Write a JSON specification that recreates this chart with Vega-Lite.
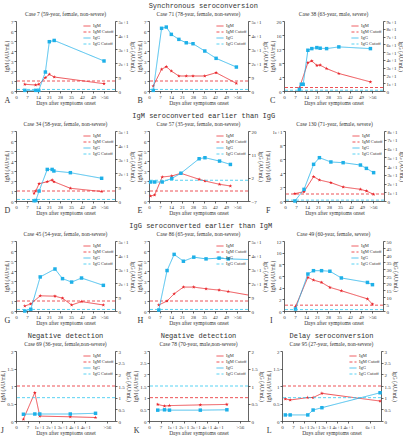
{
"$schema":"https://vega.github.io/schema/vega-lite/v6.json",
"padding":{"left":0,"top":1,"right":0,"bottom":0},
"background":"white",
"datasets":{
"pts":[
{"p":"A","s":"IgM","d":5.6,"v":0.67},{"p":"A","s":"IgM","d":12.5,"v":0.6},{"p":"A","s":"IgM","d":14.5,"v":0.67},{"p":"A","s":"IgM","d":18.7,"v":1.33},{"p":"A","s":"IgM","d":21.2,"v":1.67},{"p":"A","s":"IgM","d":24.3,"v":1.4},{"p":"A","s":"IgM","d":56,"v":0.73},
{"p":"A","s":"IgG","d":5.6,"v":0.4},{"p":"A","s":"IgG","d":12.5,"v":0.4},{"p":"A","s":"IgG","d":14.5,"v":0.4},{"p":"A","s":"IgG","d":18.7,"v":12.2},{"p":"A","s":"IgG","d":21.2,"v":31.7},{"p":"A","s":"IgG","d":24.3,"v":32.5},{"p":"A","s":"IgG","d":56,"v":19.3},
{"p":"B","s":"IgM","d":2.7,"v":0.5},{"p":"B","s":"IgM","d":8,"v":2.17},{"p":"B","s":"IgM","d":11,"v":2.43},{"p":"B","s":"IgM","d":14.2,"v":2.0},{"p":"B","s":"IgM","d":19,"v":1.5},{"p":"B","s":"IgM","d":23.7,"v":1.5},{"p":"B","s":"IgM","d":28,"v":1.5},{"p":"B","s":"IgM","d":35.5,"v":1.5},{"p":"B","s":"IgM","d":42.7,"v":1.83},{"p":"B","s":"IgM","d":55.6,"v":0.77},
{"p":"B","s":"IgG","d":2.7,"v":0.4},{"p":"B","s":"IgG","d":8,"v":40.3},{"p":"B","s":"IgG","d":11,"v":41.1},{"p":"B","s":"IgG","d":14.2,"v":36.4},{"p":"B","s":"IgG","d":19,"v":33.2},{"p":"B","s":"IgG","d":23.7,"v":31},{"p":"B","s":"IgG","d":28,"v":30.4},{"p":"B","s":"IgG","d":35.5,"v":25.7},{"p":"B","s":"IgG","d":42.7,"v":21},{"p":"B","s":"IgG","d":55.6,"v":15.4},
{"p":"C","s":"IgM","d":9.8,"v":0.9},{"p":"C","s":"IgM","d":15.2,"v":8.1},{"p":"C","s":"IgM","d":17.7,"v":8.6},{"p":"C","s":"IgM","d":20.9,"v":7.3},{"p":"C","s":"IgM","d":23,"v":7.4},{"p":"C","s":"IgM","d":27.1,"v":6.4},{"p":"C","s":"IgM","d":34.9,"v":5.0},{"p":"C","s":"IgM","d":55,"v":2.6},
{"p":"C","s":"IgG","d":9.8,"v":2},{"p":"C","s":"IgG","d":11,"v":8.6},{"p":"C","s":"IgG","d":12.2,"v":8.6},{"p":"C","s":"IgG","d":15.2,"v":52.4},{"p":"C","s":"IgG","d":17.7,"v":54.5},{"p":"C","s":"IgG","d":20.9,"v":55.8},{"p":"C","s":"IgG","d":23,"v":55},{"p":"C","s":"IgG","d":27.1,"v":54.5},{"p":"C","s":"IgG","d":34.9,"v":56.7},{"p":"C","s":"IgG","d":55,"v":54.5},
{"p":"D","s":"IgM","d":11.5,"v":0.77},{"p":"D","s":"IgM","d":12.6,"v":1.0},{"p":"D","s":"IgM","d":14.7,"v":1.73},{"p":"D","s":"IgM","d":19.9,"v":1.93},{"p":"D","s":"IgM","d":23,"v":2.1},{"p":"D","s":"IgM","d":24.1,"v":1.93},{"p":"D","s":"IgM","d":34.6,"v":1.27},{"p":"D","s":"IgM","d":54.5,"v":0.95},
{"p":"D","s":"IgG","d":11.5,"v":0.2},{"p":"D","s":"IgG","d":12.6,"v":0.3},{"p":"D","s":"IgG","d":14.7,"v":6.4},{"p":"D","s":"IgG","d":19.9,"v":20.3},{"p":"D","s":"IgG","d":23,"v":20.3},{"p":"D","s":"IgG","d":24.1,"v":19.3},{"p":"D","s":"IgG","d":34.6,"v":18.2},{"p":"D","s":"IgG","d":54.5,"v":14.6},
{"p":"E","s":"IgM","d":1,"v":0.5},{"p":"E","s":"IgM","d":3.6,"v":0.6},{"p":"E","s":"IgM","d":8.4,"v":2.4},{"p":"E","s":"IgM","d":14.5,"v":2.5},{"p":"E","s":"IgM","d":20.3,"v":2.77},{"p":"E","s":"IgM","d":31.9,"v":2.17},{"p":"E","s":"IgM","d":35.6,"v":2.0},{"p":"E","s":"IgM","d":44.9,"v":1.67},{"p":"E","s":"IgM","d":51.8,"v":1.5},
{"p":"E","s":"IgG","d":1,"v":0.33},{"p":"E","s":"IgG","d":3.6,"v":0.33},{"p":"E","s":"IgG","d":8.4,"v":0.33},{"p":"E","s":"IgG","d":14.5,"v":1.7},{"p":"E","s":"IgG","d":20.3,"v":3.7},{"p":"E","s":"IgG","d":31.9,"v":9.3},{"p":"E","s":"IgG","d":35.6,"v":9.7},{"p":"E","s":"IgG","d":44.9,"v":8.4},{"p":"E","s":"IgG","d":51.8,"v":7.1},
{"p":"F","s":"IgM","d":6.3,"v":1.05},{"p":"F","s":"IgM","d":12.1,"v":1.33},{"p":"F","s":"IgM","d":18.2,"v":3.48},{"p":"F","s":"IgM","d":21.9,"v":3.0},{"p":"F","s":"IgM","d":29.2,"v":2.62},{"p":"F","s":"IgM","d":37,"v":2.0},{"p":"F","s":"IgM","d":48,"v":1.67},{"p":"F","s":"IgM","d":51.8,"v":1.43},{"p":"F","s":"IgM","d":56.4,"v":0.95},
{"p":"F","s":"IgG","d":6.3,"v":0},{"p":"F","s":"IgG","d":12.1,"v":13.3},{"p":"F","s":"IgG","d":18.2,"v":41.9},{"p":"F","s":"IgG","d":21.9,"v":49.5},{"p":"F","s":"IgG","d":29.2,"v":44.6},{"p":"F","s":"IgG","d":37,"v":43.8},{"p":"F","s":"IgG","d":48,"v":41.1},{"p":"F","s":"IgG","d":51.8,"v":37.3},{"p":"F","s":"IgG","d":56.4,"v":32.4},
{"p":"G","s":"IgM","d":5.6,"v":0.5},{"p":"G","s":"IgM","d":9.4,"v":0.71},{"p":"G","s":"IgM","d":15.4,"v":1.52},{"p":"G","s":"IgM","d":24.8,"v":1.48},{"p":"G","s":"IgM","d":29.6,"v":1.28},{"p":"G","s":"IgM","d":35.4,"v":0.6},{"p":"G","s":"IgM","d":41.7,"v":0.94},{"p":"G","s":"IgM","d":55.6,"v":0.6},
{"p":"G","s":"IgG","d":5.6,"v":0},{"p":"G","s":"IgG","d":9.4,"v":1.1},{"p":"G","s":"IgG","d":15.4,"v":21.9},{"p":"G","s":"IgG","d":24.8,"v":27},{"p":"G","s":"IgG","d":29.6,"v":20.8},{"p":"G","s":"IgG","d":35.4,"v":18.6},{"p":"G","s":"IgG","d":41.7,"v":21.2},{"p":"G","s":"IgG","d":55.6,"v":16.5},
{"p":"H","s":"IgM","d":6.2,"v":0.6},{"p":"H","s":"IgM","d":11.5,"v":1.0},{"p":"H","s":"IgM","d":16,"v":1.72},{"p":"H","s":"IgM","d":21.9,"v":2.39},{"p":"H","s":"IgM","d":28.5,"v":2.39},{"p":"H","s":"IgM","d":36.3,"v":2.22},{"p":"H","s":"IgM","d":44.6,"v":2.09},{"p":"H","s":"IgM","d":50.4,"v":1.95},{"p":"H","s":"IgM","d":63,"v":1.6},
{"p":"H","s":"IgG","d":6.2,"v":0.6},{"p":"H","s":"IgG","d":11.5,"v":26},{"p":"H","s":"IgG","d":16,"v":36.4},{"p":"H","s":"IgG","d":21.9,"v":32},{"p":"H","s":"IgG","d":28.5,"v":34.6},{"p":"H","s":"IgG","d":36.3,"v":33.5},{"p":"H","s":"IgG","d":44.6,"v":34},{"p":"H","s":"IgG","d":50.4,"v":33.5},{"p":"H","s":"IgG","d":63,"v":33.1},
{"p":"I","s":"IgM","d":7.3,"v":0.75},{"p":"I","s":"IgM","d":15.2,"v":5.78},{"p":"I","s":"IgM","d":18.75,"v":5.3},{"p":"I","s":"IgM","d":23.9,"v":4.9},{"p":"I","s":"IgM","d":29.2,"v":4.05},{"p":"I","s":"IgM","d":36.5,"v":3.47},{"p":"I","s":"IgM","d":53.1,"v":2.08},{"p":"I","s":"IgM","d":56.3,"v":1.16},
{"p":"I","s":"IgG","d":7.3,"v":1.4},{"p":"I","s":"IgG","d":15.2,"v":26.4},{"p":"I","s":"IgG","d":18.75,"v":28.8},{"p":"I","s":"IgG","d":23.9,"v":28.8},{"p":"I","s":"IgG","d":29.2,"v":28.4},{"p":"I","s":"IgG","d":36.5,"v":23.6},{"p":"I","s":"IgG","d":53.1,"v":20.4},{"p":"I","s":"IgG","d":56.3,"v":18.8},
{"p":"J","s":"IgM","d":4.5,"v":0.05},{"p":"J","s":"IgM","d":11.4,"v":0.81},{"p":"J","s":"IgM","d":14.4,"v":0.14},{"p":"J","s":"IgM","d":32.9,"v":0.12},{"p":"J","s":"IgM","d":48.2,"v":0.1},
{"p":"J","s":"IgG","d":4.5,"v":0.29},{"p":"J","s":"IgG","d":11.4,"v":0.3},{"p":"J","s":"IgG","d":14.4,"v":0.3},{"p":"J","s":"IgG","d":32.9,"v":0.3},{"p":"J","s":"IgG","d":48.2,"v":0.33},
{"p":"K","s":"IgM","d":5.3,"v":0.71},{"p":"K","s":"IgM","d":9.4,"v":0.64},{"p":"K","s":"IgM","d":12.4,"v":0.66},{"p":"K","s":"IgM","d":31.1,"v":0.69},{"p":"K","s":"IgM","d":47.2,"v":0.71},
{"p":"K","s":"IgG","d":5.3,"v":0.31},{"p":"K","s":"IgG","d":9.4,"v":0.32},{"p":"K","s":"IgG","d":12.4,"v":0.31},{"p":"K","s":"IgG","d":31.1,"v":0.31},{"p":"K","s":"IgG","d":47.2,"v":0.32},
{"p":"L","s":"IgM","d":2.1,"v":0.63},{"p":"L","s":"IgM","d":5.2,"v":0.6},{"p":"L","s":"IgM","d":16.4,"v":0.67},{"p":"L","s":"IgM","d":19.8,"v":0.67},{"p":"L","s":"IgM","d":25.4,"v":0.79},{"p":"L","s":"IgM","d":62.4,"v":0.57},
{"p":"L","s":"IgG","d":2.1,"v":0.26},{"p":"L","s":"IgG","d":5.2,"v":0.26},{"p":"L","s":"IgG","d":16.4,"v":0.26},{"p":"L","s":"IgG","d":19.8,"v":0.47},{"p":"L","s":"IgG","d":25.4,"v":0.57},{"p":"L","s":"IgG","d":62.4,"v":1.21}
],
"cut":[
{"p":"A","s":"IgM Cutoff","v":1},{"p":"A","s":"IgG Cutoff","v":1},
{"p":"B","s":"IgM Cutoff","v":1},{"p":"B","s":"IgG Cutoff","v":1},
{"p":"C","s":"IgM Cutoff","v":1},{"p":"C","s":"IgG Cutoff","v":1},
{"p":"D","s":"IgM Cutoff","v":1},{"p":"D","s":"IgG Cutoff","v":1},
{"p":"E","s":"IgM Cutoff","v":1},{"p":"E","s":"IgG Cutoff","v":1},
{"p":"F","s":"IgM Cutoff","v":1},{"p":"F","s":"IgG Cutoff","v":1},
{"p":"G","s":"IgM Cutoff","v":1},{"p":"G","s":"IgG Cutoff","v":1},
{"p":"H","s":"IgM Cutoff","v":1},{"p":"H","s":"IgG Cutoff","v":1},
{"p":"I","s":"IgM Cutoff","v":1},{"p":"I","s":"IgG Cutoff","v":1},
{"p":"J","s":"IgM Cutoff","v":1},{"p":"J","s":"IgG Cutoff","v":1},
{"p":"K","s":"IgM Cutoff","v":1},{"p":"K","s":"IgG Cutoff","v":1},
{"p":"L","s":"IgM Cutoff","v":1},{"p":"L","s":"IgG Cutoff","v":1}
]
},
"spacing":5,
"resolve":{"scale":{"color":"independent","strokeDash":"independent"},"legend":{"color":"independent","strokeDash":"independent"}},
"vconcat":[
{"title":{"text":"Synchronous seroconversion","font":"Liberation Mono","fontSize":7,"offset":3,"anchor":"middle"},
 "spacing":2,
 "resolve":{"scale":{"color":"independent","strokeDash":"independent"},"legend":{"color":"independent","strokeDash":"independent"}},
 "hconcat":[
 {"title":{"text":"A","orient":"bottom","anchor":"start","fontSize":8,"offset":-9},
  "resolve":{"scale":{"color":"independent","strokeDash":"independent"},"legend":{"color":"independent","strokeDash":"independent"}},
  "vconcat":[{"width":99,"height":70,"title":"Case 7 (59-year, female, non-severe)","resolve":{"scale":{"y":"independent"}},
  "layer":[
   {"encoding":{"y":{"field":"v","type":"quantitative","scale":{"domain":[0,7],"nice":false},"axis":{"orient":"left","values":[0,1,2,3,4,5,6,7],"title":"IgM (AU/mL)"}}},
    "layer":[
     {"data":{"name":"pts"},"transform":[{"filter":"datum.p=='A'&&datum.s=='IgM'"}],
      "encoding":{"x":{"field":"d","type":"quantitative","scale":{"domain":[0,63],"nice":false},"axis":{"values":[0,7,14,21,28,35,42,49,56],"labelExpr":"datum.value==56?'>56':datum.label","title":"Days after symptoms onset"}}},
      "layer":[
       {"mark":{"type":"line","strokeWidth":0.8},"encoding":{"color":{"field":"s","type":"nominal","title":null,"scale":{"domain":["IgM","IgM Cutoff","IgG","IgG Cutoff"],"range":["#e8262b","#e8262b","#1eb0e8","#2ec6f0"]}},"strokeDash":{"field":"s","type":"nominal","title":null,"scale":{"domain":["IgM","IgM Cutoff","IgG","IgG Cutoff"],"range":[[1,0],[3,2],[1,0],[3,2]]}}}},
       {"mark":{"type":"point","shape":"M0,-1L0.2245,-0.309L0.951,-0.309L0.363,0.118L0.588,0.809L0,0.382L-0.588,0.809L-0.363,0.118L-0.951,-0.309L-0.2245,-0.309Z","filled":true,"size":16,"color":"#e8262b","opacity":1}}
      ]},
     {"data":{"name":"cut"},"transform":[{"filter":"datum.p=='A'&&datum.s=='IgM Cutoff'"}],"mark":{"type":"rule","strokeWidth":0.8},
      "encoding":{"color":{"field":"s","type":"nominal","title":null,"scale":{"domain":["IgM","IgM Cutoff","IgG","IgG Cutoff"],"range":["#e8262b","#e8262b","#1eb0e8","#2ec6f0"]}},"strokeDash":{"field":"s","type":"nominal","title":null,"scale":{"domain":["IgM","IgM Cutoff","IgG","IgG Cutoff"],"range":[[1,0],[3,2],[1,0],[3,2]]}}}}
    ]},
   {"encoding":{"y":{"field":"v","type":"quantitative","scale":{"domain":[0,45],"nice":false},"axis":{"orient":"right","values":[0,9,18,27,36,45],"title":"IgG (AU/mL)"}}},
    "layer":[
     {"data":{"name":"pts"},"transform":[{"filter":"datum.p=='A'&&datum.s=='IgG'"}],
      "encoding":{"x":{"field":"d","type":"quantitative","scale":{"domain":[0,63],"nice":false},"axis":{"values":[0,7,14,21,28,35,42,49,56],"labelExpr":"datum.value==56?'>56':datum.label","title":"Days after symptoms onset"}}},
      "layer":[
       {"mark":{"type":"line","strokeWidth":0.8},"encoding":{"color":{"field":"s","type":"nominal","title":null,"scale":{"domain":["IgM","IgM Cutoff","IgG","IgG Cutoff"],"range":["#e8262b","#e8262b","#1eb0e8","#2ec6f0"]}},"strokeDash":{"field":"s","type":"nominal","title":null,"scale":{"domain":["IgM","IgM Cutoff","IgG","IgG Cutoff"],"range":[[1,0],[3,2],[1,0],[3,2]]}}}},
       {"mark":{"type":"point","shape":"square","filled":true,"size":12,"color":"#1eb0e8","opacity":1}}
      ]},
     {"data":{"name":"cut"},"transform":[{"filter":"datum.p=='A'&&datum.s=='IgG Cutoff'"}],"mark":{"type":"rule","strokeWidth":0.8},
      "encoding":{"color":{"field":"s","type":"nominal","title":null,"scale":{"domain":["IgM","IgM Cutoff","IgG","IgG Cutoff"],"range":["#e8262b","#e8262b","#1eb0e8","#2ec6f0"]}},"strokeDash":{"field":"s","type":"nominal","title":null,"scale":{"domain":["IgM","IgM Cutoff","IgG","IgG Cutoff"],"range":[[1,0],[3,2],[1,0],[3,2]]}}}}
    ]}
  ]}]},
 {"title":{"text":"B","orient":"bottom","anchor":"start","fontSize":8,"offset":-9},
  "resolve":{"scale":{"color":"independent","strokeDash":"independent"},"legend":{"color":"independent","strokeDash":"independent"}},
  "vconcat":[{"width":99,"height":70,"title":"Case 71 (78-year, female, non-severe)","resolve":{"scale":{"y":"independent"}},
  "layer":[
   {"encoding":{"y":{"field":"v","type":"quantitative","scale":{"domain":[0,7],"nice":false},"axis":{"orient":"left","values":[0,1,2,3,4,5,6,7],"title":"IgM (AU/mL)"}}},
    "layer":[
     {"data":{"name":"pts"},"transform":[{"filter":"datum.p=='B'&&datum.s=='IgM'"}],
      "encoding":{"x":{"field":"d","type":"quantitative","scale":{"domain":[0,63],"nice":false},"axis":{"values":[0,7,14,21,28,35,42,49,56],"labelExpr":"datum.value==56?'>56':datum.label","title":"Days after symptoms onset"}}},
      "layer":[
       {"mark":{"type":"line","strokeWidth":0.8},"encoding":{"color":{"field":"s","type":"nominal","title":null,"scale":{"domain":["IgM","IgM Cutoff","IgG","IgG Cutoff"],"range":["#e8262b","#e8262b","#1eb0e8","#2ec6f0"]}},"strokeDash":{"field":"s","type":"nominal","title":null,"scale":{"domain":["IgM","IgM Cutoff","IgG","IgG Cutoff"],"range":[[1,0],[3,2],[1,0],[3,2]]}}}},
       {"mark":{"type":"point","shape":"M0,-1L0.2245,-0.309L0.951,-0.309L0.363,0.118L0.588,0.809L0,0.382L-0.588,0.809L-0.363,0.118L-0.951,-0.309L-0.2245,-0.309Z","filled":true,"size":16,"color":"#e8262b","opacity":1}}
      ]},
     {"data":{"name":"cut"},"transform":[{"filter":"datum.p=='B'&&datum.s=='IgM Cutoff'"}],"mark":{"type":"rule","strokeWidth":0.8},
      "encoding":{"color":{"field":"s","type":"nominal","title":null,"scale":{"domain":["IgM","IgM Cutoff","IgG","IgG Cutoff"],"range":["#e8262b","#e8262b","#1eb0e8","#2ec6f0"]}},"strokeDash":{"field":"s","type":"nominal","title":null,"scale":{"domain":["IgM","IgM Cutoff","IgG","IgG Cutoff"],"range":[[1,0],[3,2],[1,0],[3,2]]}}}}
    ]},
   {"encoding":{"y":{"field":"v","type":"quantitative","scale":{"domain":[0,45],"nice":false},"axis":{"orient":"right","values":[0,9,18,27,36,45],"title":"IgG (AU/mL)"}}},
    "layer":[
     {"data":{"name":"pts"},"transform":[{"filter":"datum.p=='B'&&datum.s=='IgG'"}],
      "encoding":{"x":{"field":"d","type":"quantitative","scale":{"domain":[0,63],"nice":false},"axis":{"values":[0,7,14,21,28,35,42,49,56],"labelExpr":"datum.value==56?'>56':datum.label","title":"Days after symptoms onset"}}},
      "layer":[
       {"mark":{"type":"line","strokeWidth":0.8},"encoding":{"color":{"field":"s","type":"nominal","title":null,"scale":{"domain":["IgM","IgM Cutoff","IgG","IgG Cutoff"],"range":["#e8262b","#e8262b","#1eb0e8","#2ec6f0"]}},"strokeDash":{"field":"s","type":"nominal","title":null,"scale":{"domain":["IgM","IgM Cutoff","IgG","IgG Cutoff"],"range":[[1,0],[3,2],[1,0],[3,2]]}}}},
       {"mark":{"type":"point","shape":"square","filled":true,"size":12,"color":"#1eb0e8","opacity":1}}
      ]},
     {"data":{"name":"cut"},"transform":[{"filter":"datum.p=='B'&&datum.s=='IgG Cutoff'"}],"mark":{"type":"rule","strokeWidth":0.8},
      "encoding":{"color":{"field":"s","type":"nominal","title":null,"scale":{"domain":["IgM","IgM Cutoff","IgG","IgG Cutoff"],"range":["#e8262b","#e8262b","#1eb0e8","#2ec6f0"]}},"strokeDash":{"field":"s","type":"nominal","title":null,"scale":{"domain":["IgM","IgM Cutoff","IgG","IgG Cutoff"],"range":[[1,0],[3,2],[1,0],[3,2]]}}}}
    ]}
  ]}]},
 {"title":{"text":"C","orient":"bottom","anchor":"start","fontSize":8,"offset":-9},
  "resolve":{"scale":{"color":"independent","strokeDash":"independent"},"legend":{"color":"independent","strokeDash":"independent"}},
  "vconcat":[{"width":99,"height":70,"title":"Case 38 (63-year, male, severe)","resolve":{"scale":{"y":"independent"}},
  "layer":[
   {"encoding":{"y":{"field":"v","type":"quantitative","scale":{"domain":[0,20],"nice":false},"axis":{"orient":"left","values":[0,4,8,12,16,20],"title":"IgM (AU/mL)"}}},
    "layer":[
     {"data":{"name":"pts"},"transform":[{"filter":"datum.p=='C'&&datum.s=='IgM'"}],
      "encoding":{"x":{"field":"d","type":"quantitative","scale":{"domain":[0,63],"nice":false},"axis":{"values":[0,7,14,21,28,35,42,49,56],"labelExpr":"datum.value==56?'>56':datum.label","title":"Days after symptoms onset"}}},
      "layer":[
       {"mark":{"type":"line","strokeWidth":0.8},"encoding":{"color":{"field":"s","type":"nominal","title":null,"scale":{"domain":["IgM","IgM Cutoff","IgG","IgG Cutoff"],"range":["#e8262b","#e8262b","#1eb0e8","#2ec6f0"]}},"strokeDash":{"field":"s","type":"nominal","title":null,"scale":{"domain":["IgM","IgM Cutoff","IgG","IgG Cutoff"],"range":[[1,0],[3,2],[1,0],[3,2]]}}}},
       {"mark":{"type":"point","shape":"M0,-1L0.2245,-0.309L0.951,-0.309L0.363,0.118L0.588,0.809L0,0.382L-0.588,0.809L-0.363,0.118L-0.951,-0.309L-0.2245,-0.309Z","filled":true,"size":16,"color":"#e8262b","opacity":1}}
      ]},
     {"data":{"name":"cut"},"transform":[{"filter":"datum.p=='C'&&datum.s=='IgM Cutoff'"}],"mark":{"type":"rule","strokeWidth":0.8},
      "encoding":{"color":{"field":"s","type":"nominal","title":null,"scale":{"domain":["IgM","IgM Cutoff","IgG","IgG Cutoff"],"range":["#e8262b","#e8262b","#1eb0e8","#2ec6f0"]}},"strokeDash":{"field":"s","type":"nominal","title":null,"scale":{"domain":["IgM","IgM Cutoff","IgG","IgG Cutoff"],"range":[[1,0],[3,2],[1,0],[3,2]]}}}}
    ]},
   {"encoding":{"y":{"field":"v","type":"quantitative","scale":{"domain":[0,90],"nice":false},"axis":{"orient":"right","values":[0,10,20,30,40,50,60,70,80,90],"title":"IgG (AU/mL)"}}},
    "layer":[
     {"data":{"name":"pts"},"transform":[{"filter":"datum.p=='C'&&datum.s=='IgG'"}],
      "encoding":{"x":{"field":"d","type":"quantitative","scale":{"domain":[0,63],"nice":false},"axis":{"values":[0,7,14,21,28,35,42,49,56],"labelExpr":"datum.value==56?'>56':datum.label","title":"Days after symptoms onset"}}},
      "layer":[
       {"mark":{"type":"line","strokeWidth":0.8},"encoding":{"color":{"field":"s","type":"nominal","title":null,"scale":{"domain":["IgM","IgM Cutoff","IgG","IgG Cutoff"],"range":["#e8262b","#e8262b","#1eb0e8","#2ec6f0"]}},"strokeDash":{"field":"s","type":"nominal","title":null,"scale":{"domain":["IgM","IgM Cutoff","IgG","IgG Cutoff"],"range":[[1,0],[3,2],[1,0],[3,2]]}}}},
       {"mark":{"type":"point","shape":"square","filled":true,"size":12,"color":"#1eb0e8","opacity":1}}
      ]},
     {"data":{"name":"cut"},"transform":[{"filter":"datum.p=='C'&&datum.s=='IgG Cutoff'"}],"mark":{"type":"rule","strokeWidth":0.8},
      "encoding":{"color":{"field":"s","type":"nominal","title":null,"scale":{"domain":["IgM","IgM Cutoff","IgG","IgG Cutoff"],"range":["#e8262b","#e8262b","#1eb0e8","#2ec6f0"]}},"strokeDash":{"field":"s","type":"nominal","title":null,"scale":{"domain":["IgM","IgM Cutoff","IgG","IgG Cutoff"],"range":[[1,0],[3,2],[1,0],[3,2]]}}}}
    ]}
  ]}]}
 ]},
{"title":{"text":"IgM seroconverted earlier than IgG","font":"Liberation Mono","fontSize":7,"offset":3,"anchor":"middle"},
 "spacing":2,
 "resolve":{"scale":{"color":"independent","strokeDash":"independent"},"legend":{"color":"independent","strokeDash":"independent"}},
 "hconcat":[
 {"title":{"text":"D","orient":"bottom","anchor":"start","fontSize":8,"offset":-9},
  "resolve":{"scale":{"color":"independent","strokeDash":"independent"},"legend":{"color":"independent","strokeDash":"independent"}},
  "vconcat":[{"width":99,"height":70,"title":"Case 34 (58-year, female, non-severe)","resolve":{"scale":{"y":"independent"}},
  "layer":[
   {"encoding":{"y":{"field":"v","type":"quantitative","scale":{"domain":[0,7],"nice":false},"axis":{"orient":"left","values":[0,1,2,3,4,5,6,7],"title":"IgM (AU/mL)"}}},
    "layer":[
     {"data":{"name":"pts"},"transform":[{"filter":"datum.p=='D'&&datum.s=='IgM'"}],
      "encoding":{"x":{"field":"d","type":"quantitative","scale":{"domain":[0,63],"nice":false},"axis":{"values":[0,7,14,21,28,35,42,49,56],"labelExpr":"datum.value==56?'>56':datum.label","title":"Days after symptoms onset"}}},
      "layer":[
       {"mark":{"type":"line","strokeWidth":0.8},"encoding":{"color":{"field":"s","type":"nominal","title":null,"scale":{"domain":["IgM","IgM Cutoff","IgG","IgG Cutoff"],"range":["#e8262b","#e8262b","#1eb0e8","#2ec6f0"]}},"strokeDash":{"field":"s","type":"nominal","title":null,"scale":{"domain":["IgM","IgM Cutoff","IgG","IgG Cutoff"],"range":[[1,0],[3,2],[1,0],[3,2]]}}}},
       {"mark":{"type":"point","shape":"M0,-1L0.2245,-0.309L0.951,-0.309L0.363,0.118L0.588,0.809L0,0.382L-0.588,0.809L-0.363,0.118L-0.951,-0.309L-0.2245,-0.309Z","filled":true,"size":16,"color":"#e8262b","opacity":1}}
      ]},
     {"data":{"name":"cut"},"transform":[{"filter":"datum.p=='D'&&datum.s=='IgM Cutoff'"}],"mark":{"type":"rule","strokeWidth":0.8},
      "encoding":{"color":{"field":"s","type":"nominal","title":null,"scale":{"domain":["IgM","IgM Cutoff","IgG","IgG Cutoff"],"range":["#e8262b","#e8262b","#1eb0e8","#2ec6f0"]}},"strokeDash":{"field":"s","type":"nominal","title":null,"scale":{"domain":["IgM","IgM Cutoff","IgG","IgG Cutoff"],"range":[[1,0],[3,2],[1,0],[3,2]]}}}}
    ]},
   {"encoding":{"y":{"field":"v","type":"quantitative","scale":{"domain":[0,45],"nice":false},"axis":{"orient":"right","values":[0,9,18,27,36,45],"title":"IgG (AU/mL)"}}},
    "layer":[
     {"data":{"name":"pts"},"transform":[{"filter":"datum.p=='D'&&datum.s=='IgG'"}],
      "encoding":{"x":{"field":"d","type":"quantitative","scale":{"domain":[0,63],"nice":false},"axis":{"values":[0,7,14,21,28,35,42,49,56],"labelExpr":"datum.value==56?'>56':datum.label","title":"Days after symptoms onset"}}},
      "layer":[
       {"mark":{"type":"line","strokeWidth":0.8},"encoding":{"color":{"field":"s","type":"nominal","title":null,"scale":{"domain":["IgM","IgM Cutoff","IgG","IgG Cutoff"],"range":["#e8262b","#e8262b","#1eb0e8","#2ec6f0"]}},"strokeDash":{"field":"s","type":"nominal","title":null,"scale":{"domain":["IgM","IgM Cutoff","IgG","IgG Cutoff"],"range":[[1,0],[3,2],[1,0],[3,2]]}}}},
       {"mark":{"type":"point","shape":"square","filled":true,"size":12,"color":"#1eb0e8","opacity":1}}
      ]},
     {"data":{"name":"cut"},"transform":[{"filter":"datum.p=='D'&&datum.s=='IgG Cutoff'"}],"mark":{"type":"rule","strokeWidth":0.8},
      "encoding":{"color":{"field":"s","type":"nominal","title":null,"scale":{"domain":["IgM","IgM Cutoff","IgG","IgG Cutoff"],"range":["#e8262b","#e8262b","#1eb0e8","#2ec6f0"]}},"strokeDash":{"field":"s","type":"nominal","title":null,"scale":{"domain":["IgM","IgM Cutoff","IgG","IgG Cutoff"],"range":[[1,0],[3,2],[1,0],[3,2]]}}}}
    ]}
  ]}]},
 {"title":{"text":"E","orient":"bottom","anchor":"start","fontSize":8,"offset":-9},
  "resolve":{"scale":{"color":"independent","strokeDash":"independent"},"legend":{"color":"independent","strokeDash":"independent"}},
  "vconcat":[{"width":99,"height":70,"title":"Case 57 (35-year, female, non-severe)","resolve":{"scale":{"y":"independent"}},
  "layer":[
   {"encoding":{"y":{"field":"v","type":"quantitative","scale":{"domain":[0,7],"nice":false},"axis":{"orient":"left","values":[0,1,2,3,4,5,6,7],"title":"IgM (AU/mL)"}}},
    "layer":[
     {"data":{"name":"pts"},"transform":[{"filter":"datum.p=='E'&&datum.s=='IgM'"}],
      "encoding":{"x":{"field":"d","type":"quantitative","scale":{"domain":[0,63],"nice":false},"axis":{"values":[0,7,14,21,28,35,42,49,56],"labelExpr":"datum.value==56?'>56':datum.label","title":"Days after symptoms onset"}}},
      "layer":[
       {"mark":{"type":"line","strokeWidth":0.8},"encoding":{"color":{"field":"s","type":"nominal","title":null,"scale":{"domain":["IgM","IgM Cutoff","IgG","IgG Cutoff"],"range":["#e8262b","#e8262b","#1eb0e8","#2ec6f0"]}},"strokeDash":{"field":"s","type":"nominal","title":null,"scale":{"domain":["IgM","IgM Cutoff","IgG","IgG Cutoff"],"range":[[1,0],[3,2],[1,0],[3,2]]}}}},
       {"mark":{"type":"point","shape":"M0,-1L0.2245,-0.309L0.951,-0.309L0.363,0.118L0.588,0.809L0,0.382L-0.588,0.809L-0.363,0.118L-0.951,-0.309L-0.2245,-0.309Z","filled":true,"size":16,"color":"#e8262b","opacity":1}}
      ]},
     {"data":{"name":"cut"},"transform":[{"filter":"datum.p=='E'&&datum.s=='IgM Cutoff'"}],"mark":{"type":"rule","strokeWidth":0.8},
      "encoding":{"color":{"field":"s","type":"nominal","title":null,"scale":{"domain":["IgM","IgM Cutoff","IgG","IgG Cutoff"],"range":["#e8262b","#e8262b","#1eb0e8","#2ec6f0"]}},"strokeDash":{"field":"s","type":"nominal","title":null,"scale":{"domain":["IgM","IgM Cutoff","IgG","IgG Cutoff"],"range":[[1,0],[3,2],[1,0],[3,2]]}}}}
    ]},
   {"encoding":{"y":{"field":"v","type":"quantitative","scale":{"domain":[-7,20],"nice":false,"zero":false},"axis":{"orient":"right","values":[-7,2,11,20],"title":"IgG (AU/mL)"}}},
    "layer":[
     {"data":{"name":"pts"},"transform":[{"filter":"datum.p=='E'&&datum.s=='IgG'"}],
      "encoding":{"x":{"field":"d","type":"quantitative","scale":{"domain":[0,63],"nice":false},"axis":{"values":[0,7,14,21,28,35,42,49,56],"labelExpr":"datum.value==56?'>56':datum.label","title":"Days after symptoms onset"}}},
      "layer":[
       {"mark":{"type":"line","strokeWidth":0.8},"encoding":{"color":{"field":"s","type":"nominal","title":null,"scale":{"domain":["IgM","IgM Cutoff","IgG","IgG Cutoff"],"range":["#e8262b","#e8262b","#1eb0e8","#2ec6f0"]}},"strokeDash":{"field":"s","type":"nominal","title":null,"scale":{"domain":["IgM","IgM Cutoff","IgG","IgG Cutoff"],"range":[[1,0],[3,2],[1,0],[3,2]]}}}},
       {"mark":{"type":"point","shape":"square","filled":true,"size":12,"color":"#1eb0e8","opacity":1}}
      ]},
     {"data":{"name":"cut"},"transform":[{"filter":"datum.p=='E'&&datum.s=='IgG Cutoff'"}],"mark":{"type":"rule","strokeWidth":0.8},
      "encoding":{"color":{"field":"s","type":"nominal","title":null,"scale":{"domain":["IgM","IgM Cutoff","IgG","IgG Cutoff"],"range":["#e8262b","#e8262b","#1eb0e8","#2ec6f0"]}},"strokeDash":{"field":"s","type":"nominal","title":null,"scale":{"domain":["IgM","IgM Cutoff","IgG","IgG Cutoff"],"range":[[1,0],[3,2],[1,0],[3,2]]}}}}
    ]}
  ]}]},
 {"title":{"text":"F","orient":"bottom","anchor":"start","fontSize":8,"offset":-9},
  "resolve":{"scale":{"color":"independent","strokeDash":"independent"},"legend":{"color":"independent","strokeDash":"independent"}},
  "vconcat":[{"width":99,"height":70,"title":"Case 130 (71-year, female, severe)","resolve":{"scale":{"y":"independent"}},
  "layer":[
   {"encoding":{"y":{"field":"v","type":"quantitative","scale":{"domain":[0,10],"nice":false},"axis":{"orient":"left","values":[0,2,4,6,8,10],"title":"IgM (AU/mL)"}}},
    "layer":[
     {"data":{"name":"pts"},"transform":[{"filter":"datum.p=='F'&&datum.s=='IgM'"}],
      "encoding":{"x":{"field":"d","type":"quantitative","scale":{"domain":[0,63],"nice":false},"axis":{"values":[0,7,14,21,28,35,42,49,56],"labelExpr":"datum.value==56?'>56':datum.label","title":"Days after symptoms onset"}}},
      "layer":[
       {"mark":{"type":"line","strokeWidth":0.8},"encoding":{"color":{"field":"s","type":"nominal","title":null,"scale":{"domain":["IgM","IgM Cutoff","IgG","IgG Cutoff"],"range":["#e8262b","#e8262b","#1eb0e8","#2ec6f0"]}},"strokeDash":{"field":"s","type":"nominal","title":null,"scale":{"domain":["IgM","IgM Cutoff","IgG","IgG Cutoff"],"range":[[1,0],[3,2],[1,0],[3,2]]}}}},
       {"mark":{"type":"point","shape":"M0,-1L0.2245,-0.309L0.951,-0.309L0.363,0.118L0.588,0.809L0,0.382L-0.588,0.809L-0.363,0.118L-0.951,-0.309L-0.2245,-0.309Z","filled":true,"size":16,"color":"#e8262b","opacity":1}}
      ]},
     {"data":{"name":"cut"},"transform":[{"filter":"datum.p=='F'&&datum.s=='IgM Cutoff'"}],"mark":{"type":"rule","strokeWidth":0.8},
      "encoding":{"color":{"field":"s","type":"nominal","title":null,"scale":{"domain":["IgM","IgM Cutoff","IgG","IgG Cutoff"],"range":["#e8262b","#e8262b","#1eb0e8","#2ec6f0"]}},"strokeDash":{"field":"s","type":"nominal","title":null,"scale":{"domain":["IgM","IgM Cutoff","IgG","IgG Cutoff"],"range":[[1,0],[3,2],[1,0],[3,2]]}}}}
    ]},
   {"encoding":{"y":{"field":"v","type":"quantitative","scale":{"domain":[0,80],"nice":false},"axis":{"orient":"right","values":[0,10,20,30,40,50,60,70,80],"title":"IgG (AU/mL)"}}},
    "layer":[
     {"data":{"name":"pts"},"transform":[{"filter":"datum.p=='F'&&datum.s=='IgG'"}],
      "encoding":{"x":{"field":"d","type":"quantitative","scale":{"domain":[0,63],"nice":false},"axis":{"values":[0,7,14,21,28,35,42,49,56],"labelExpr":"datum.value==56?'>56':datum.label","title":"Days after symptoms onset"}}},
      "layer":[
       {"mark":{"type":"line","strokeWidth":0.8},"encoding":{"color":{"field":"s","type":"nominal","title":null,"scale":{"domain":["IgM","IgM Cutoff","IgG","IgG Cutoff"],"range":["#e8262b","#e8262b","#1eb0e8","#2ec6f0"]}},"strokeDash":{"field":"s","type":"nominal","title":null,"scale":{"domain":["IgM","IgM Cutoff","IgG","IgG Cutoff"],"range":[[1,0],[3,2],[1,0],[3,2]]}}}},
       {"mark":{"type":"point","shape":"square","filled":true,"size":12,"color":"#1eb0e8","opacity":1}}
      ]},
     {"data":{"name":"cut"},"transform":[{"filter":"datum.p=='F'&&datum.s=='IgG Cutoff'"}],"mark":{"type":"rule","strokeWidth":0.8},
      "encoding":{"color":{"field":"s","type":"nominal","title":null,"scale":{"domain":["IgM","IgM Cutoff","IgG","IgG Cutoff"],"range":["#e8262b","#e8262b","#1eb0e8","#2ec6f0"]}},"strokeDash":{"field":"s","type":"nominal","title":null,"scale":{"domain":["IgM","IgM Cutoff","IgG","IgG Cutoff"],"range":[[1,0],[3,2],[1,0],[3,2]]}}}}
    ]}
  ]}]}
 ]},
{"title":{"text":"IgG seroconverted earlier than IgM","font":"Liberation Mono","fontSize":7,"offset":3,"anchor":"middle"},
 "spacing":2,
 "resolve":{"scale":{"color":"independent","strokeDash":"independent"},"legend":{"color":"independent","strokeDash":"independent"}},
 "hconcat":[
 {"title":{"text":"G","orient":"bottom","anchor":"start","fontSize":8,"offset":-9},
  "resolve":{"scale":{"color":"independent","strokeDash":"independent"},"legend":{"color":"independent","strokeDash":"independent"}},
  "vconcat":[{"width":99,"height":70,"title":"Case 45 (54-year, female, non-severe)","resolve":{"scale":{"y":"independent"}},
  "layer":[
   {"encoding":{"y":{"field":"v","type":"quantitative","scale":{"domain":[0,7],"nice":false},"axis":{"orient":"left","values":[0,1,2,3,4,5,6,7],"title":"IgM (AU/mL)"}}},
    "layer":[
     {"data":{"name":"pts"},"transform":[{"filter":"datum.p=='G'&&datum.s=='IgM'"}],
      "encoding":{"x":{"field":"d","type":"quantitative","scale":{"domain":[0,63],"nice":false},"axis":{"values":[0,7,14,21,28,35,42,49,56],"labelExpr":"datum.value==56?'>56':datum.label","title":"Days after symptoms onset"}}},
      "layer":[
       {"mark":{"type":"line","strokeWidth":0.8},"encoding":{"color":{"field":"s","type":"nominal","title":null,"scale":{"domain":["IgM","IgM Cutoff","IgG","IgG Cutoff"],"range":["#e8262b","#e8262b","#1eb0e8","#2ec6f0"]}},"strokeDash":{"field":"s","type":"nominal","title":null,"scale":{"domain":["IgM","IgM Cutoff","IgG","IgG Cutoff"],"range":[[1,0],[3,2],[1,0],[3,2]]}}}},
       {"mark":{"type":"point","shape":"M0,-1L0.2245,-0.309L0.951,-0.309L0.363,0.118L0.588,0.809L0,0.382L-0.588,0.809L-0.363,0.118L-0.951,-0.309L-0.2245,-0.309Z","filled":true,"size":16,"color":"#e8262b","opacity":1}}
      ]},
     {"data":{"name":"cut"},"transform":[{"filter":"datum.p=='G'&&datum.s=='IgM Cutoff'"}],"mark":{"type":"rule","strokeWidth":0.8},
      "encoding":{"color":{"field":"s","type":"nominal","title":null,"scale":{"domain":["IgM","IgM Cutoff","IgG","IgG Cutoff"],"range":["#e8262b","#e8262b","#1eb0e8","#2ec6f0"]}},"strokeDash":{"field":"s","type":"nominal","title":null,"scale":{"domain":["IgM","IgM Cutoff","IgG","IgG Cutoff"],"range":[[1,0],[3,2],[1,0],[3,2]]}}}}
    ]},
   {"encoding":{"y":{"field":"v","type":"quantitative","scale":{"domain":[0,45],"nice":false},"axis":{"orient":"right","values":[0,9,18,27,36,45],"title":"IgG (AU/mL)"}}},
    "layer":[
     {"data":{"name":"pts"},"transform":[{"filter":"datum.p=='G'&&datum.s=='IgG'"}],
      "encoding":{"x":{"field":"d","type":"quantitative","scale":{"domain":[0,63],"nice":false},"axis":{"values":[0,7,14,21,28,35,42,49,56],"labelExpr":"datum.value==56?'>56':datum.label","title":"Days after symptoms onset"}}},
      "layer":[
       {"mark":{"type":"line","strokeWidth":0.8},"encoding":{"color":{"field":"s","type":"nominal","title":null,"scale":{"domain":["IgM","IgM Cutoff","IgG","IgG Cutoff"],"range":["#e8262b","#e8262b","#1eb0e8","#2ec6f0"]}},"strokeDash":{"field":"s","type":"nominal","title":null,"scale":{"domain":["IgM","IgM Cutoff","IgG","IgG Cutoff"],"range":[[1,0],[3,2],[1,0],[3,2]]}}}},
       {"mark":{"type":"point","shape":"square","filled":true,"size":12,"color":"#1eb0e8","opacity":1}}
      ]},
     {"data":{"name":"cut"},"transform":[{"filter":"datum.p=='G'&&datum.s=='IgG Cutoff'"}],"mark":{"type":"rule","strokeWidth":0.8},
      "encoding":{"color":{"field":"s","type":"nominal","title":null,"scale":{"domain":["IgM","IgM Cutoff","IgG","IgG Cutoff"],"range":["#e8262b","#e8262b","#1eb0e8","#2ec6f0"]}},"strokeDash":{"field":"s","type":"nominal","title":null,"scale":{"domain":["IgM","IgM Cutoff","IgG","IgG Cutoff"],"range":[[1,0],[3,2],[1,0],[3,2]]}}}}
    ]}
  ]}]},
 {"title":{"text":"H","orient":"bottom","anchor":"start","fontSize":8,"offset":-9},
  "resolve":{"scale":{"color":"independent","strokeDash":"independent"},"legend":{"color":"independent","strokeDash":"independent"}},
  "vconcat":[{"width":99,"height":70,"title":"Case 86 (65-year, female, non-severe)","resolve":{"scale":{"y":"independent"}},
  "layer":[
   {"encoding":{"y":{"field":"v","type":"quantitative","scale":{"domain":[0,7],"nice":false},"axis":{"orient":"left","values":[0,1,2,3,4,5,6,7],"title":"IgM (AU/mL)"}}},
    "layer":[
     {"data":{"name":"pts"},"transform":[{"filter":"datum.p=='H'&&datum.s=='IgM'"}],
      "encoding":{"x":{"field":"d","type":"quantitative","scale":{"domain":[0,63],"nice":false},"axis":{"values":[0,7,14,21,28,35,42,49,56],"labelExpr":"datum.value==56?'>56':datum.label","title":"Days after symptoms onset"}}},
      "layer":[
       {"mark":{"type":"line","strokeWidth":0.8},"encoding":{"color":{"field":"s","type":"nominal","title":null,"scale":{"domain":["IgM","IgM Cutoff","IgG","IgG Cutoff"],"range":["#e8262b","#e8262b","#1eb0e8","#2ec6f0"]}},"strokeDash":{"field":"s","type":"nominal","title":null,"scale":{"domain":["IgM","IgM Cutoff","IgG","IgG Cutoff"],"range":[[1,0],[3,2],[1,0],[3,2]]}}}},
       {"transform":[{"filter":"datum.d<60"}],"mark":{"type":"point","shape":"M0,-1L0.2245,-0.309L0.951,-0.309L0.363,0.118L0.588,0.809L0,0.382L-0.588,0.809L-0.363,0.118L-0.951,-0.309L-0.2245,-0.309Z","filled":true,"size":16,"color":"#e8262b","opacity":1}}
      ]},
     {"data":{"name":"cut"},"transform":[{"filter":"datum.p=='H'&&datum.s=='IgM Cutoff'"}],"mark":{"type":"rule","strokeWidth":0.8},
      "encoding":{"color":{"field":"s","type":"nominal","title":null,"scale":{"domain":["IgM","IgM Cutoff","IgG","IgG Cutoff"],"range":["#e8262b","#e8262b","#1eb0e8","#2ec6f0"]}},"strokeDash":{"field":"s","type":"nominal","title":null,"scale":{"domain":["IgM","IgM Cutoff","IgG","IgG Cutoff"],"range":[[1,0],[3,2],[1,0],[3,2]]}}}}
    ]},
   {"encoding":{"y":{"field":"v","type":"quantitative","scale":{"domain":[0,45],"nice":false},"axis":{"orient":"right","values":[0,9,18,27,36,45],"title":"IgG (AU/mL)"}}},
    "layer":[
     {"data":{"name":"pts"},"transform":[{"filter":"datum.p=='H'&&datum.s=='IgG'"}],
      "encoding":{"x":{"field":"d","type":"quantitative","scale":{"domain":[0,63],"nice":false},"axis":{"values":[0,7,14,21,28,35,42,49,56],"labelExpr":"datum.value==56?'>56':datum.label","title":"Days after symptoms onset"}}},
      "layer":[
       {"mark":{"type":"line","strokeWidth":0.8},"encoding":{"color":{"field":"s","type":"nominal","title":null,"scale":{"domain":["IgM","IgM Cutoff","IgG","IgG Cutoff"],"range":["#e8262b","#e8262b","#1eb0e8","#2ec6f0"]}},"strokeDash":{"field":"s","type":"nominal","title":null,"scale":{"domain":["IgM","IgM Cutoff","IgG","IgG Cutoff"],"range":[[1,0],[3,2],[1,0],[3,2]]}}}},
       {"transform":[{"filter":"datum.d<60"}],"mark":{"type":"point","shape":"square","filled":true,"size":12,"color":"#1eb0e8","opacity":1}}
      ]},
     {"data":{"name":"cut"},"transform":[{"filter":"datum.p=='H'&&datum.s=='IgG Cutoff'"}],"mark":{"type":"rule","strokeWidth":0.8},
      "encoding":{"color":{"field":"s","type":"nominal","title":null,"scale":{"domain":["IgM","IgM Cutoff","IgG","IgG Cutoff"],"range":["#e8262b","#e8262b","#1eb0e8","#2ec6f0"]}},"strokeDash":{"field":"s","type":"nominal","title":null,"scale":{"domain":["IgM","IgM Cutoff","IgG","IgG Cutoff"],"range":[[1,0],[3,2],[1,0],[3,2]]}}}}
    ]}
  ]}]},
 {"title":{"text":"I","orient":"bottom","anchor":"start","fontSize":8,"offset":-9},
  "resolve":{"scale":{"color":"independent","strokeDash":"independent"},"legend":{"color":"independent","strokeDash":"independent"}},
  "vconcat":[{"width":99,"height":70,"title":"Case 49 (60-year, female, severe)","resolve":{"scale":{"y":"independent"}},
  "layer":[
   {"encoding":{"y":{"field":"v","type":"quantitative","scale":{"domain":[0,12],"nice":false},"axis":{"orient":"left","values":[0,2,4,6,8,10,12],"title":"IgM (AU/mL)"}}},
    "layer":[
     {"data":{"name":"pts"},"transform":[{"filter":"datum.p=='I'&&datum.s=='IgM'"}],
      "encoding":{"x":{"field":"d","type":"quantitative","scale":{"domain":[0,63],"nice":false},"axis":{"values":[0,7,14,21,28,35,42,49,56],"labelExpr":"datum.value==56?'>56':datum.label","title":"Days after symptoms onset"}}},
      "layer":[
       {"mark":{"type":"line","strokeWidth":0.8},"encoding":{"color":{"field":"s","type":"nominal","title":null,"scale":{"domain":["IgM","IgM Cutoff","IgG","IgG Cutoff"],"range":["#e8262b","#e8262b","#1eb0e8","#2ec6f0"]}},"strokeDash":{"field":"s","type":"nominal","title":null,"scale":{"domain":["IgM","IgM Cutoff","IgG","IgG Cutoff"],"range":[[1,0],[3,2],[1,0],[3,2]]}}}},
       {"mark":{"type":"point","shape":"M0,-1L0.2245,-0.309L0.951,-0.309L0.363,0.118L0.588,0.809L0,0.382L-0.588,0.809L-0.363,0.118L-0.951,-0.309L-0.2245,-0.309Z","filled":true,"size":16,"color":"#e8262b","opacity":1}}
      ]},
     {"data":{"name":"cut"},"transform":[{"filter":"datum.p=='I'&&datum.s=='IgM Cutoff'"}],"mark":{"type":"rule","strokeWidth":0.8},
      "encoding":{"color":{"field":"s","type":"nominal","title":null,"scale":{"domain":["IgM","IgM Cutoff","IgG","IgG Cutoff"],"range":["#e8262b","#e8262b","#1eb0e8","#2ec6f0"]}},"strokeDash":{"field":"s","type":"nominal","title":null,"scale":{"domain":["IgM","IgM Cutoff","IgG","IgG Cutoff"],"range":[[1,0],[3,2],[1,0],[3,2]]}}}}
    ]},
   {"encoding":{"y":{"field":"v","type":"quantitative","scale":{"domain":[0,50],"nice":false},"axis":{"orient":"right","values":[0,5,10,15,20,25,30,35,40,45,50],"title":"IgG (AU/mL)"}}},
    "layer":[
     {"data":{"name":"pts"},"transform":[{"filter":"datum.p=='I'&&datum.s=='IgG'"}],
      "encoding":{"x":{"field":"d","type":"quantitative","scale":{"domain":[0,63],"nice":false},"axis":{"values":[0,7,14,21,28,35,42,49,56],"labelExpr":"datum.value==56?'>56':datum.label","title":"Days after symptoms onset"}}},
      "layer":[
       {"mark":{"type":"line","strokeWidth":0.8},"encoding":{"color":{"field":"s","type":"nominal","title":null,"scale":{"domain":["IgM","IgM Cutoff","IgG","IgG Cutoff"],"range":["#e8262b","#e8262b","#1eb0e8","#2ec6f0"]}},"strokeDash":{"field":"s","type":"nominal","title":null,"scale":{"domain":["IgM","IgM Cutoff","IgG","IgG Cutoff"],"range":[[1,0],[3,2],[1,0],[3,2]]}}}},
       {"mark":{"type":"point","shape":"square","filled":true,"size":12,"color":"#1eb0e8","opacity":1}}
      ]},
     {"data":{"name":"cut"},"transform":[{"filter":"datum.p=='I'&&datum.s=='IgG Cutoff'"}],"mark":{"type":"rule","strokeWidth":0.8},
      "encoding":{"color":{"field":"s","type":"nominal","title":null,"scale":{"domain":["IgM","IgM Cutoff","IgG","IgG Cutoff"],"range":["#e8262b","#e8262b","#1eb0e8","#2ec6f0"]}},"strokeDash":{"field":"s","type":"nominal","title":null,"scale":{"domain":["IgM","IgM Cutoff","IgG","IgG Cutoff"],"range":[[1,0],[3,2],[1,0],[3,2]]}}}}
    ]}
  ]}]}
 ]},
{"spacing":2,
 "resolve":{"scale":{"color":"independent","strokeDash":"independent"},"legend":{"color":"independent","strokeDash":"independent"}},
 "hconcat":[
 {"title":{"text":"J","orient":"bottom","anchor":"start","fontSize":8,"offset":-9},
  "resolve":{"scale":{"color":"independent","strokeDash":"independent"},"legend":{"color":"independent","strokeDash":"independent"}},
  "vconcat":[{"width":99,"height":70,"title":{"text":"Negative detection","subtitle":"Case 69 (36-year, female,non-severe)","font":"Liberation Mono","fontSize":7},"resolve":{"scale":{"y":"independent"}},
  "layer":[
   {"encoding":{"y":{"field":"v","type":"quantitative","scale":{"domain":[0,2],"nice":false},"axis":{"orient":"left","values":[0,0.5,1,1.5,2],"title":"IgM (AU/mL)"}}},
    "layer":[
     {"data":{"name":"pts"},"transform":[{"filter":"datum.p=='J'&&datum.s=='IgM'"}],
      "encoding":{"x":{"field":"d","type":"quantitative","scale":{"domain":[0,60],"nice":false},"axis":{"values":[0,7,14,21,28,35,42,55],"labelExpr":"datum.value==55?'>56':datum.label","title":"Days after symptoms onset"}}},
      "layer":[
       {"mark":{"type":"line","strokeWidth":0.8},"encoding":{"color":{"field":"s","type":"nominal","title":null,"scale":{"domain":["IgM","IgM Cutoff","IgG","IgG Cutoff"],"range":["#e8262b","#e8262b","#1eb0e8","#2ec6f0"]}},"strokeDash":{"field":"s","type":"nominal","title":null,"scale":{"domain":["IgM","IgM Cutoff","IgG","IgG Cutoff"],"range":[[1,0],[3,2],[1,0],[3,2]]}}}},
       {"mark":{"type":"point","shape":"M0,-1L0.2245,-0.309L0.951,-0.309L0.363,0.118L0.588,0.809L0,0.382L-0.588,0.809L-0.363,0.118L-0.951,-0.309L-0.2245,-0.309Z","filled":true,"size":16,"color":"#e8262b","opacity":1}}
      ]},
     {"data":{"name":"cut"},"transform":[{"filter":"datum.p=='J'&&datum.s=='IgM Cutoff'"}],"mark":{"type":"rule","strokeWidth":0.8},
      "encoding":{"color":{"field":"s","type":"nominal","title":null,"scale":{"domain":["IgM","IgM Cutoff","IgG","IgG Cutoff"],"range":["#e8262b","#e8262b","#1eb0e8","#2ec6f0"]}},"strokeDash":{"field":"s","type":"nominal","title":null,"scale":{"domain":["IgM","IgM Cutoff","IgG","IgG Cutoff"],"range":[[1,0],[3,2],[1,0],[3,2]]}}}}
    ]},
   {"encoding":{"y":{"field":"v","type":"quantitative","scale":{"domain":[0,3],"nice":false},"axis":{"orient":"right","values":[0,0.5,1,1.5,2,2.5,3],"title":"IgG (AU/mL)"}}},
    "layer":[
     {"data":{"name":"pts"},"transform":[{"filter":"datum.p=='J'&&datum.s=='IgG'"}],
      "encoding":{"x":{"field":"d","type":"quantitative","scale":{"domain":[0,60],"nice":false},"axis":{"values":[0,7,14,21,28,35,42,55],"labelExpr":"datum.value==55?'>56':datum.label","title":"Days after symptoms onset"}}},
      "layer":[
       {"mark":{"type":"line","strokeWidth":0.8},"encoding":{"color":{"field":"s","type":"nominal","title":null,"scale":{"domain":["IgM","IgM Cutoff","IgG","IgG Cutoff"],"range":["#e8262b","#e8262b","#1eb0e8","#2ec6f0"]}},"strokeDash":{"field":"s","type":"nominal","title":null,"scale":{"domain":["IgM","IgM Cutoff","IgG","IgG Cutoff"],"range":[[1,0],[3,2],[1,0],[3,2]]}}}},
       {"mark":{"type":"point","shape":"square","filled":true,"size":12,"color":"#1eb0e8","opacity":1}}
      ]},
     {"data":{"name":"cut"},"transform":[{"filter":"datum.p=='J'&&datum.s=='IgG Cutoff'"}],"mark":{"type":"rule","strokeWidth":0.8},
      "encoding":{"color":{"field":"s","type":"nominal","title":null,"scale":{"domain":["IgM","IgM Cutoff","IgG","IgG Cutoff"],"range":["#e8262b","#e8262b","#1eb0e8","#2ec6f0"]}},"strokeDash":{"field":"s","type":"nominal","title":null,"scale":{"domain":["IgM","IgM Cutoff","IgG","IgG Cutoff"],"range":[[1,0],[3,2],[1,0],[3,2]]}}}}
    ]}
  ]}]},
 {"title":{"text":"K","orient":"bottom","anchor":"start","fontSize":8,"offset":-9},
  "resolve":{"scale":{"color":"independent","strokeDash":"independent"},"legend":{"color":"independent","strokeDash":"independent"}},
  "vconcat":[{"width":99,"height":70,"title":{"text":"Negative detection","subtitle":"Case 78 (70-year, male,non-severe)","font":"Liberation Mono","fontSize":7},"resolve":{"scale":{"y":"independent"}},
  "layer":[
   {"encoding":{"y":{"field":"v","type":"quantitative","scale":{"domain":[0,3],"nice":false},"axis":{"orient":"left","values":[0,0.5,1,1.5,2,2.5,3],"title":"IgM (AU/mL)"}}},
    "layer":[
     {"data":{"name":"pts"},"transform":[{"filter":"datum.p=='K'&&datum.s=='IgM'"}],
      "encoding":{"x":{"field":"d","type":"quantitative","scale":{"domain":[0,60],"nice":false},"axis":{"values":[0,7,14,21,28,35,42,55],"labelExpr":"datum.value==55?'>56':datum.label","title":"Days after symptoms onset"}}},
      "layer":[
       {"mark":{"type":"line","strokeWidth":0.8},"encoding":{"color":{"field":"s","type":"nominal","title":null,"scale":{"domain":["IgM","IgM Cutoff","IgG","IgG Cutoff"],"range":["#e8262b","#e8262b","#1eb0e8","#2ec6f0"]}},"strokeDash":{"field":"s","type":"nominal","title":null,"scale":{"domain":["IgM","IgM Cutoff","IgG","IgG Cutoff"],"range":[[1,0],[3,2],[1,0],[3,2]]}}}},
       {"mark":{"type":"point","shape":"M0,-1L0.2245,-0.309L0.951,-0.309L0.363,0.118L0.588,0.809L0,0.382L-0.588,0.809L-0.363,0.118L-0.951,-0.309L-0.2245,-0.309Z","filled":true,"size":16,"color":"#e8262b","opacity":1}}
      ]},
     {"data":{"name":"cut"},"transform":[{"filter":"datum.p=='K'&&datum.s=='IgM Cutoff'"}],"mark":{"type":"rule","strokeWidth":0.8},
      "encoding":{"color":{"field":"s","type":"nominal","title":null,"scale":{"domain":["IgM","IgM Cutoff","IgG","IgG Cutoff"],"range":["#e8262b","#e8262b","#1eb0e8","#2ec6f0"]}},"strokeDash":{"field":"s","type":"nominal","title":null,"scale":{"domain":["IgM","IgM Cutoff","IgG","IgG Cutoff"],"range":[[1,0],[3,2],[1,0],[3,2]]}}}}
    ]},
   {"encoding":{"y":{"field":"v","type":"quantitative","scale":{"domain":[0,2],"nice":false},"axis":{"orient":"right","values":[0,0.5,1,1.5,2],"title":"IgG (AU/mL)"}}},
    "layer":[
     {"data":{"name":"pts"},"transform":[{"filter":"datum.p=='K'&&datum.s=='IgG'"}],
      "encoding":{"x":{"field":"d","type":"quantitative","scale":{"domain":[0,60],"nice":false},"axis":{"values":[0,7,14,21,28,35,42,55],"labelExpr":"datum.value==55?'>56':datum.label","title":"Days after symptoms onset"}}},
      "layer":[
       {"mark":{"type":"line","strokeWidth":0.8},"encoding":{"color":{"field":"s","type":"nominal","title":null,"scale":{"domain":["IgM","IgM Cutoff","IgG","IgG Cutoff"],"range":["#e8262b","#e8262b","#1eb0e8","#2ec6f0"]}},"strokeDash":{"field":"s","type":"nominal","title":null,"scale":{"domain":["IgM","IgM Cutoff","IgG","IgG Cutoff"],"range":[[1,0],[3,2],[1,0],[3,2]]}}}},
       {"mark":{"type":"point","shape":"square","filled":true,"size":12,"color":"#1eb0e8","opacity":1}}
      ]},
     {"data":{"name":"cut"},"transform":[{"filter":"datum.p=='K'&&datum.s=='IgG Cutoff'"}],"mark":{"type":"rule","strokeWidth":0.8},
      "encoding":{"color":{"field":"s","type":"nominal","title":null,"scale":{"domain":["IgM","IgM Cutoff","IgG","IgG Cutoff"],"range":["#e8262b","#e8262b","#1eb0e8","#2ec6f0"]}},"strokeDash":{"field":"s","type":"nominal","title":null,"scale":{"domain":["IgM","IgM Cutoff","IgG","IgG Cutoff"],"range":[[1,0],[3,2],[1,0],[3,2]]}}}}
    ]}
  ]}]},
 {"title":{"text":"L","orient":"bottom","anchor":"start","fontSize":8,"offset":-9},
  "resolve":{"scale":{"color":"independent","strokeDash":"independent"},"legend":{"color":"independent","strokeDash":"independent"}},
  "vconcat":[{"width":99,"height":70,"title":{"text":"Delay seroconversion","subtitle":"Case 95 (27-year, female, non-severe)","font":"Liberation Mono","fontSize":7},"resolve":{"scale":{"y":"independent"}},
  "layer":[
   {"encoding":{"y":{"field":"v","type":"quantitative","scale":{"domain":[0,2],"nice":false},"axis":{"orient":"left","values":[0,0.5,1,1.5,2],"title":"IgM (AU/mL)"}}},
    "layer":[
     {"data":{"name":"pts"},"transform":[{"filter":"datum.p=='L'&&datum.s=='IgM'"}],
      "encoding":{"x":{"field":"d","type":"quantitative","scale":{"domain":[0,63],"nice":false},"axis":{"values":[0,7,14,21,28,35,42,56],"title":"Days after symptoms onset"}}},
      "layer":[
       {"mark":{"type":"line","strokeWidth":0.8},"encoding":{"color":{"field":"s","type":"nominal","title":null,"scale":{"domain":["IgM","IgM Cutoff","IgG","IgG Cutoff"],"range":["#e8262b","#e8262b","#1eb0e8","#2ec6f0"]}},"strokeDash":{"field":"s","type":"nominal","title":null,"scale":{"domain":["IgM","IgM Cutoff","IgG","IgG Cutoff"],"range":[[1,0],[3,2],[1,0],[3,2]]}}}},
       {"mark":{"type":"point","shape":"M0,-1L0.2245,-0.309L0.951,-0.309L0.363,0.118L0.588,0.809L0,0.382L-0.588,0.809L-0.363,0.118L-0.951,-0.309L-0.2245,-0.309Z","filled":true,"size":16,"color":"#e8262b","opacity":1}}
      ]},
     {"data":{"name":"cut"},"transform":[{"filter":"datum.p=='L'&&datum.s=='IgM Cutoff'"}],"mark":{"type":"rule","strokeWidth":0.8},
      "encoding":{"color":{"field":"s","type":"nominal","title":null,"scale":{"domain":["IgM","IgM Cutoff","IgG","IgG Cutoff"],"range":["#e8262b","#e8262b","#1eb0e8","#2ec6f0"]}},"strokeDash":{"field":"s","type":"nominal","title":null,"scale":{"domain":["IgM","IgM Cutoff","IgG","IgG Cutoff"],"range":[[1,0],[3,2],[1,0],[3,2]]}}}}
    ]},
   {"encoding":{"y":{"field":"v","type":"quantitative","scale":{"domain":[0,3],"nice":false},"axis":{"orient":"right","values":[0,0.5,1,1.5,2,2.5,3],"title":"IgG (AU/mL)"}}},
    "layer":[
     {"data":{"name":"pts"},"transform":[{"filter":"datum.p=='L'&&datum.s=='IgG'"}],
      "encoding":{"x":{"field":"d","type":"quantitative","scale":{"domain":[0,63],"nice":false},"axis":{"values":[0,7,14,21,28,35,42,56],"title":"Days after symptoms onset"}}},
      "layer":[
       {"mark":{"type":"line","strokeWidth":0.8},"encoding":{"color":{"field":"s","type":"nominal","title":null,"scale":{"domain":["IgM","IgM Cutoff","IgG","IgG Cutoff"],"range":["#e8262b","#e8262b","#1eb0e8","#2ec6f0"]}},"strokeDash":{"field":"s","type":"nominal","title":null,"scale":{"domain":["IgM","IgM Cutoff","IgG","IgG Cutoff"],"range":[[1,0],[3,2],[1,0],[3,2]]}}}},
       {"mark":{"type":"point","shape":"square","filled":true,"size":12,"color":"#1eb0e8","opacity":1}}
      ]},
     {"data":{"name":"cut"},"transform":[{"filter":"datum.p=='L'&&datum.s=='IgG Cutoff'"}],"mark":{"type":"rule","strokeWidth":0.8},
      "encoding":{"color":{"field":"s","type":"nominal","title":null,"scale":{"domain":["IgM","IgM Cutoff","IgG","IgG Cutoff"],"range":["#e8262b","#e8262b","#1eb0e8","#2ec6f0"]}},"strokeDash":{"field":"s","type":"nominal","title":null,"scale":{"domain":["IgM","IgM Cutoff","IgG","IgG Cutoff"],"range":[[1,0],[3,2],[1,0],[3,2]]}}}}
    ]}
  ]}]}
 ]}
],
"config":{
 "view":{"stroke":null},
 "font":"Liberation Serif",
 "axis":{"labelFont":"Liberation Serif","labelFontSize":5,"titleFont":"Liberation Serif","titleFontSize":5.5,"titleFontWeight":"normal","grid":false,"domainColor":"#222","tickColor":"#222","tickSize":2,"labelPadding":1,"titlePadding":1,"domainWidth":0.7,"tickWidth":0.7,"labelColor":"#333","titleColor":"#333","format":"~g"},
 "axisX":{"labelAngle":0,"labelFlush":false},
 "axisY":{"labelFlush":false},
 "legend":{"orient":"top-right","offset":1,"padding":0,"labelFont":"Liberation Serif","labelFontSize":4.5,"labelColor":"#333","symbolSize":50,"symbolStrokeWidth":0.8,"rowPadding":-2,"labelOffset":2},
 "title":{"font":"Liberation Serif","fontSize":5.5,"fontWeight":"normal","offset":2,"color":"#333","subtitleFont":"Liberation Serif","subtitleFontSize":5.5,"subtitleColor":"#333","subtitlePadding":3}
}
}
